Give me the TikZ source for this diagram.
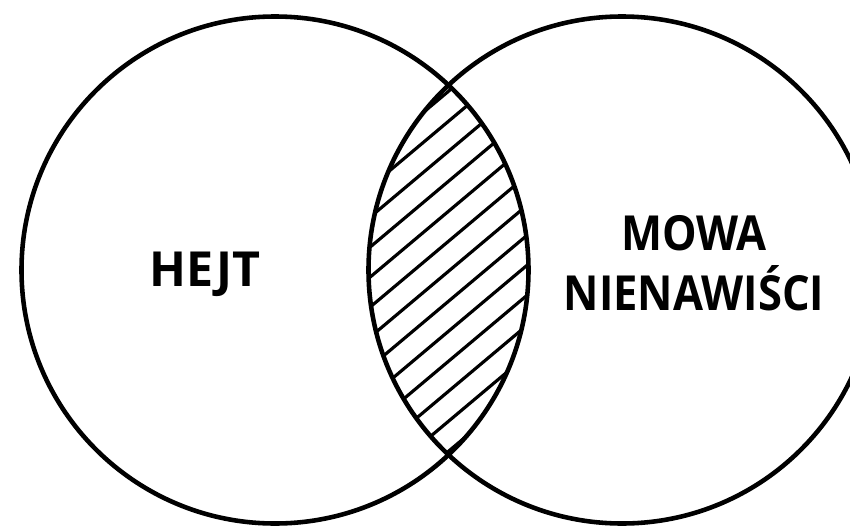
\documentclass[tikz,border=0pt]{standalone}
\usepackage{fontspec}
\setmainfont{Open Sans}
\usepackage{tikz}
\usetikzlibrary{positioning, calc}

\begin{document}
\begin{tikzpicture}[
    venn/.style={circle, draw, line width=2.6pt, minimum size=10.14cm, inner sep=0pt, outer sep=0pt},
    hatch/.style={line width=1.8pt},
    label/.style={font=\fontsize{27.5}{34}\selectfont\bfseries, anchor=base, inner sep=0pt}
]
    \useasboundingbox (0,0) rectangle (17,10.58);

    % hatched intersection
    \begin{scope}
        \clip (5.5,5.18) circle (5.07);
        \clip (12.44,5.18) circle (5.07);
        \foreach \c in {-5.4,-4.8,...,5.4}
            \draw[hatch] (6.5,5.18+\c-2.1) -- (11.5,5.18+\c+2.1);
    \end{scope}

    \node[venn] (hejt) at (5.5,5.18) {};
    \node[venn, right=-3.2cm of hejt] (mowa) {};

    \node[label] (hejtText) at (4.1,4.86) {HEJT};
    \node[label, xscale=0.9] (mowaText) at (13.88,5.58) {MOWA};
    \node[label, xscale=0.9] (nienText) at (13.88,4.38) {NIENAWIŚCI};
\end{tikzpicture}
\end{document}
